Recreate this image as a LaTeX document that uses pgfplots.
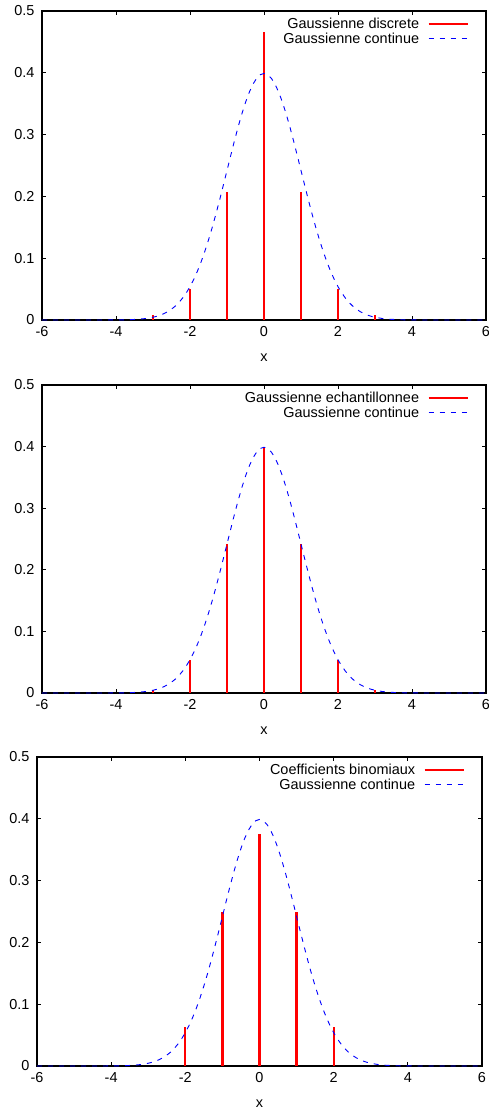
\documentclass[border=0pt]{standalone}
\usepackage{fontspec}
\setmainfont{Liberation Sans}
\usepackage{pgfplots}
\pgfplotsset{compat=1.18}
\usepackage{pgfplotstable}

\pgfplotstableread{
x y
-6 0
-5 0.0000015
-4.5 0.000016
-4 0.000134
-3.8 0.000292
-3.6 0.000612
-3.4 0.001232
-3.2 0.002384
-3.0 0.004432
-2.9 0.005953
-2.8 0.007915
-2.7 0.010421
-2.6 0.013583
-2.5 0.017528
-2.4 0.022395
-2.3 0.028327
-2.2 0.035475
-2.1 0.043984
-2.0 0.053991
-1.9 0.065616
-1.8 0.078950
-1.7 0.094049
-1.6 0.110921
-1.5 0.129518
-1.4 0.149727
-1.3 0.171369
-1.2 0.194186
-1.1 0.217852
-1.0 0.241971
-0.9 0.266085
-0.8 0.289692
-0.7 0.312254
-0.6 0.333225
-0.5 0.352065
-0.4 0.368270
-0.3 0.381388
-0.2 0.391043
-0.1 0.396953
0 0.398942
0.1 0.396953
0.2 0.391043
0.3 0.381388
0.4 0.368270
0.5 0.352065
0.6 0.333225
0.7 0.312254
0.8 0.289692
0.9 0.266085
1.0 0.241971
1.1 0.217852
1.2 0.194186
1.3 0.171369
1.4 0.149727
1.5 0.129518
1.6 0.110921
1.7 0.094049
1.8 0.078950
1.9 0.065616
2.0 0.053991
2.1 0.043984
2.2 0.035475
2.3 0.028327
2.4 0.022395
2.5 0.017528
2.6 0.013583
2.7 0.010421
2.8 0.007915
2.9 0.005953
3.0 0.004432
3.2 0.002384
3.4 0.001232
3.6 0.000612
3.8 0.000292
4 0.000134
4.5 0.000016
5 0.0000015
6 0
}\gausscont

\newcommand{\gpfont}{\fontsize{14.5}{16}\selectfont}

\pgfplotsset{
 gp/.style={
  scale only axis, width=444bp, height=309bp,
  xmin=-6, xmax=6, ymin=0, ymax=0.5,
  xtick={-6,-4,-2,0,2,4,6}, xticklabels={-6,-4,-2,0,2,4,6},
  ytick={0,0.1,0.2,0.3,0.4,0.5}, yticklabels={0,0.1,0.2,0.3,0.4,0.5},
  tick align=inside, major tick length=4bp,
  every tick/.style={black, line width=1bp},
  axis line style={line width=1.6bp},
  tick label style={font=\gpfont},
  xticklabel style={yshift=-3bp},
  yticklabel style={xshift=-4bp},
  xlabel={x},
  x label style={at={(axis description cs:0.5,0)}, anchor=center, yshift=-38bp, font=\gpfont},
  legend cell align=right, legend plot pos=right,
  legend image code/.code={\draw[##1] (0bp,0bp) -- (39bp,0bp);},
  legend style={draw=none, fill=none, at={(1,1)}, anchor=north east,
    xshift=-14bp, yshift=-3bp, font=\gpfont, row sep=0bp, column sep=7bp,
    nodes={inner sep=1.5bp}},
 },
 comb/.style={red, line width=2.2bp, ycomb, forget plot},
 cont/.style={blue, line width=0.9bp, dash pattern=on 5bp off 6bp},
}

\begin{document}
\begin{tikzpicture}
\path[use as bounding box] (0,0) rectangle (489bp,-1110bp);

\begin{axis}[gp, at={(42bp,-320bp)}, anchor=south west]
\addplot[comb] coordinates {(-3,0.0082) (-2,0.0499) (-1,0.2079) (0,0.4658) (1,0.2079) (2,0.0499) (3,0.0082)};
\addplot[cont, forget plot] table {\gausscont};
\addlegendimage{red, line width=2.2bp}
\addlegendentry{Gaussienne discrete}
\addlegendimage{cont}
\addlegendentry{Gaussienne continue}
\end{axis}

\begin{axis}[gp, at={(42bp,-693bp)}, anchor=south west, height=308bp]
\addplot[comb] coordinates {(-3,0.0044) (-2,0.0540) (-1,0.2420) (0,0.3989) (1,0.2420) (2,0.0540) (3,0.0044)};
\addplot[cont, forget plot] table {\gausscont};
\addlegendimage{red, line width=2.2bp}
\addlegendentry{Gaussienne echantillonnee}
\addlegendimage{cont}
\addlegendentry{Gaussienne continue}
\end{axis}

\begin{axis}[gp, at={(37bp,-1066bp)}, anchor=south west, width=445bp]
\addplot[comb] coordinates {(-2,0.0625) (-1,0.25) (0,0.375) (1,0.25) (2,0.0625)};
\addplot[cont, forget plot] table {\gausscont};
\addlegendimage{red, line width=2.2bp}
\addlegendentry{Coefficients binomiaux}
\addlegendimage{cont}
\addlegendentry{Gaussienne continue}
\end{axis}
\end{tikzpicture}
\end{document}
